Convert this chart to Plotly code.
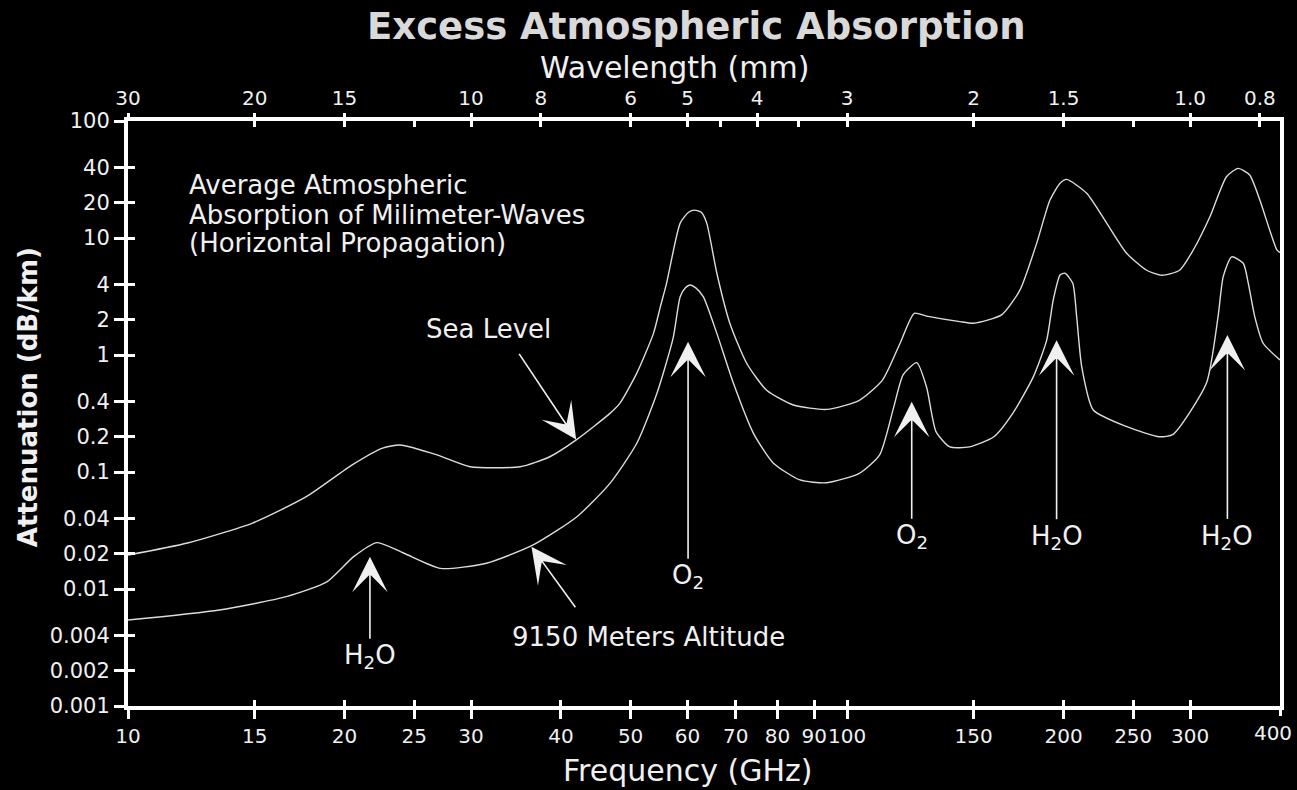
import numpy as np
import plotly.graph_objects as go

# ---------------- data ----------------
freq_sea = [10.0, 12.1, 14.9, 17.7, 20.5, 22.6, 23.9, 26.9, 29.9, 35.1, 38.6, 42.1,
            46.8, 48.3, 51.0, 53.8, 55.0, 56.1, 58.6, 60.2, 61.4, 62.7, 63.8, 65.9, 68.7, 72.5,
            77.3, 84.2, 93.7, 104.0, 112.0, 118.5, 124.0, 129.0, 143.5, 150.0, 164.0,
            174.0, 183.5, 191.5, 197.8, 202.0, 215.4, 229.6, 244.8, 261.0, 274.0,
            290.0, 303.0, 319.6, 337.0, 350.0, 363.0, 375.0, 396.0, 400.0]
att_sea = [0.0195, 0.0247, 0.0366, 0.0615, 0.115, 0.16, 0.17, 0.14, 0.111, 0.111, 0.135, 0.19,
           0.317, 0.386, 0.70, 1.53, 2.59, 4.1, 13.4, 16.6, 17.3, 16.6, 13.4, 5.0, 1.87, 0.85,
           0.50, 0.374, 0.343, 0.41, 0.61, 1.26, 2.27, 2.15, 1.93, 1.87, 2.2,
           3.6, 9.0, 21.1, 29.4, 31.7, 24.1, 13.4, 7.4, 5.3, 4.8,
           5.3, 7.9, 15.2, 33.4, 39.4, 34.5, 21.1, 7.9, 7.5]

freq_alt = [10.0, 13.4, 16.6, 18.9, 20.6, 22.2, 24.2, 27.2, 31.5, 36.6, 42.1, 46.8,
            51.0, 54.4, 57.3, 58.6, 59.6, 60.5, 61.6, 63.1, 65.9, 69.5, 74.1, 79.0, 86.0, 93.7,
            104.0, 111.0, 116.0, 119.7, 125.0, 129.0, 133.0, 139.0, 148.0, 160.0,
            170.0, 181.6, 189.5, 193.5, 197.8, 200.9, 206.0, 208.6, 212.0, 220.0,
            245.0, 272.0, 284.0, 316.0, 328.0, 333.5, 342.6, 355.6, 361.4, 369.0,
            379.0, 400.0]
att_alt = [0.00543, 0.00662, 0.0086, 0.0115, 0.0189, 0.0249, 0.0202, 0.015, 0.0166, 0.0238, 0.0415, 0.080,
           0.176, 0.471, 1.4, 3.15, 3.75, 3.96, 3.75, 3.15, 1.53, 0.573, 0.214, 0.119, 0.0855, 0.081,
           0.0975, 0.14, 0.35, 0.68, 0.86, 0.53, 0.22, 0.164, 0.164, 0.2,
           0.317, 0.653, 1.34, 2.95, 4.83, 5.0, 4.1, 2.12, 0.795, 0.339,
           0.244, 0.2, 0.21, 0.573, 2.12, 4.67, 6.9, 6.08, 4.1, 2.12,
           1.26, 0.906]

x_tick_vals = [10, 15, 20, 25, 30, 40, 50, 60, 70, 80, 90, 100, 150, 200, 250, 300, 400]
x_tick_text = [str(v) for v in x_tick_vals]
y_tick_vals = [100, 40, 20, 10, 4, 2, 1, 0.4, 0.2, 0.1, 0.04, 0.02, 0.01, 0.004, 0.002, 0.001]
y_tick_text = ["100", "40", "20", "10", "4", "2", "1", "0.4", "0.2", "0.1",
               "0.04", "0.02", "0.01", "0.004", "0.002", "0.001"]
# wavelength (mm) ticks on the top axis: labelled and unlabelled ones
wl_label_vals = [30, 20, 15, 10, 8, 6, 5, 4, 3, 2, 1.5, 1.0, 0.8]
wl_label_text = ["30", "20", "15", "10", "8", "6", "5", "4", "3", "2", "1.5", "1.0", "0.8"]
wl_minor_vals = [12, 4.5, 3.5, 1.2]
C_MM_GHZ = 300.0   # f(GHz) = c / lambda(mm)
wl_label_freq = [C_MM_GHZ / w for w in wl_label_vals]
wl_all_freq = [C_MM_GHZ / w for w in sorted(wl_label_vals + wl_minor_vals, reverse=True)]

# absorption lines: arrow tips (frequency GHz, attenuation dB/km) and their labels
line_label = ["H<sub>2</sub>O", "O<sub>2</sub>", "O<sub>2</sub>", "H<sub>2</sub>O", "H<sub>2</sub>O"]
line_tip_freq = [21.7, 60.1, 123.0, 195.6, 338.0]
line_tip_att = [0.0189, 1.30, 0.399, 1.34, 1.48]
line_label_drop = [100, 235, 135, 197, 202]          # pixel offset of label below tip

# curve call-outs: arrow tips and label positions
curve_label = ["9150 Meters Altitude", "Sea Level"]
curve_tip_freq = [36.4, 42.0]
curve_tip_att = [0.023, 0.19]
curve_tail_off = [(45, 62), (-58, -87)]
curve_label_freq = [52.9, 31.7]
curve_label_att = [0.00389, 1.67]

note_lines = ["Average Atmospheric", "Absorption of Milimeter-Waves", "(Horizontal Propagation)"]

# ---------------- figure ----------------
FONT = "DejaVu Sans"
TXT = "#f0f0f0"
LINE = "#dcdcdc"

fig = go.Figure()
fig.add_trace(go.Scatter(x=freq_sea, y=att_sea, mode="lines", name="Sea Level",
                         line=dict(color=LINE, width=1.4, shape="spline", smoothing=0.6),
                         showlegend=False, hoverinfo="skip"))
fig.add_trace(go.Scatter(x=freq_alt, y=att_alt, mode="lines", name="9150 Meters Altitude",
                         line=dict(color=LINE, width=1.4, shape="spline", smoothing=0.6),
                         showlegend=False, hoverinfo="skip"))
# carrier traces (draw nothing) so that the overlay tick axes are rendered
for xa, ya in [("x2", "y2"), ("x3", "y"), ("x4", "y"), ("x5", "y")]:
    fig.add_trace(go.Scatter(x=freq_sea, y=att_sea, mode="none", xaxis=xa, yaxis=ya,
                             showlegend=False, hoverinfo="skip"))

eps = 1e-6
xr = [1 - eps, np.log10(400) + eps]
yr = [-3 - eps, 2 + eps]
tickfont_x = dict(family=FONT, size=20, color=TXT)
tickfont_y = dict(family=FONT, size=21, color=TXT)
axcommon = dict(type="log", showgrid=False, zeroline=False, tickcolor="white",
                tickwidth=3, fixedrange=True, tickangle=0, automargin=False)

fig.update_layout(
    width=1297, height=790, autosize=False,
    margin=dict(l=128, r=17, t=121, b=84),
    paper_bgcolor="black", plot_bgcolor="black",
    xaxis=dict(**axcommon, range=xr, side="bottom", tickmode="array",
               tickvals=x_tick_vals[:-1], ticktext=x_tick_text[:-1], ticks="outside", ticklen=9,
               showline=True, linewidth=4, linecolor="white", mirror=True,
               tickfont=tickfont_x),
    # last bottom label, nudged inward so it stays inside the page
    xaxis5=dict(**axcommon, range=xr, overlaying="x", side="bottom", anchor="y",
                tickmode="array", tickvals=x_tick_vals[-1:], ticktext=x_tick_text[-1:],
                ticks="outside", ticklen=9, showline=False, tickfont=tickfont_x,
                ticklabelshift=-7, ticklabeloverflow="allow"),
    xaxis2=dict(**axcommon, range=xr, overlaying="x", side="top", anchor="y2",
                tickmode="array", tickvals=wl_label_freq, ticktext=wl_label_text,
                ticks="outside", ticklen=7, showline=False, tickfont=tickfont_x),
    xaxis3=dict(**axcommon, range=xr, overlaying="x", side="bottom", anchor="y",
                tickmode="array", tickvals=x_tick_vals, ticks="inside", ticklen=6,
                showticklabels=False, showline=False),
    xaxis4=dict(**axcommon, range=xr, overlaying="x", side="top", anchor="y",
                tickmode="array", tickvals=wl_all_freq, ticks="inside", ticklen=6,
                showticklabels=False, showline=False),
    yaxis=dict(**axcommon, range=yr, tickmode="array", tickvals=y_tick_vals,
               ticktext=y_tick_text, ticks="outside", ticklen=10,
               showline=True, linewidth=4, linecolor="white", mirror=True,
               tickfont=tickfont_y),
    yaxis2=dict(**axcommon, range=yr, overlaying="y", side="left", anchor="x2",
                tickmode="array", tickvals=y_tick_vals, ticks="inside", ticklen=7,
                showticklabels=False, showline=False),
)

ARROW = dict(showarrow=True, arrowhead=3, arrowsize=3.7, arrowwidth=1.6,
             arrowcolor="#f0f0f0", axref="pixel", ayref="pixel")
ann = []
# absorption-line arrows with their labels at the tail
for t, f, a, d in zip(line_label, line_tip_freq, line_tip_att, line_label_drop):
    ann.append(dict(x=np.log10(f), y=np.log10(a), xref="x", yref="y", text=t,
                    ax=0, ay=d, font=dict(family=FONT, size=26, color=TXT), **ARROW))
# curve call-out arrows
for f, a, (dx, dy) in zip(curve_tip_freq, curve_tip_att, curve_tail_off):
    ann.append(dict(x=np.log10(f), y=np.log10(a), xref="x", yref="y", text="",
                    ax=dx, ay=dy, **ARROW))
for t, f, a in zip(curve_label, curve_label_freq, curve_label_att):
    ann.append(dict(x=np.log10(f), y=np.log10(a), xref="x", yref="y", text=t,
                    showarrow=False, xanchor="center", yanchor="middle",
                    font=dict(family=FONT, size=26, color=TXT)))
# note block
for t, yp in zip(note_lines, [0.8906, 0.8393, 0.7906]):
    ann.append(dict(x=0.051, y=yp, xref="paper", yref="paper", text=t, showarrow=False,
                    xanchor="left", yanchor="middle",
                    font=dict(family=FONT, size=26, color=TXT)))
# titles
ann.append(dict(x=0.4935, y=1.1607, xref="paper", yref="paper",
                text="Excess Atmospheric Absorption", showarrow=False,
                xanchor="center", yanchor="middle",
                font=dict(family=FONT, size=37, color="#d9d9d9", weight="bold")))
ann.append(dict(x=0.474, y=1.0906, xref="paper", yref="paper",
                text="Wavelength (mm)", showarrow=False, xanchor="center", yanchor="middle",
                font=dict(family=FONT, size=30, color=TXT)))
ann.append(dict(x=0.4857, y=-0.111, xref="paper", yref="paper",
                text="Frequency (GHz)", showarrow=False, xanchor="center", yanchor="middle",
                font=dict(family=FONT, size=30, color=TXT)))
ann.append(dict(x=-0.0868, y=0.528, xref="paper", yref="paper",
                text="Attenuation (dB/km)", showarrow=False, textangle=-90,
                xanchor="center", yanchor="middle",
                font=dict(family=FONT, size=26, color=TXT, weight="bold")))
fig.update_layout(annotations=ann)

fig.write_html("out.html", config={"displayModeBar": False, "responsive": False},
               post_script="document.documentElement.style.overflow='hidden';"
                           "document.body.style.overflow='hidden';"
                           "document.body.style.margin='0';"
                           "document.body.style.backgroundColor='black';")
